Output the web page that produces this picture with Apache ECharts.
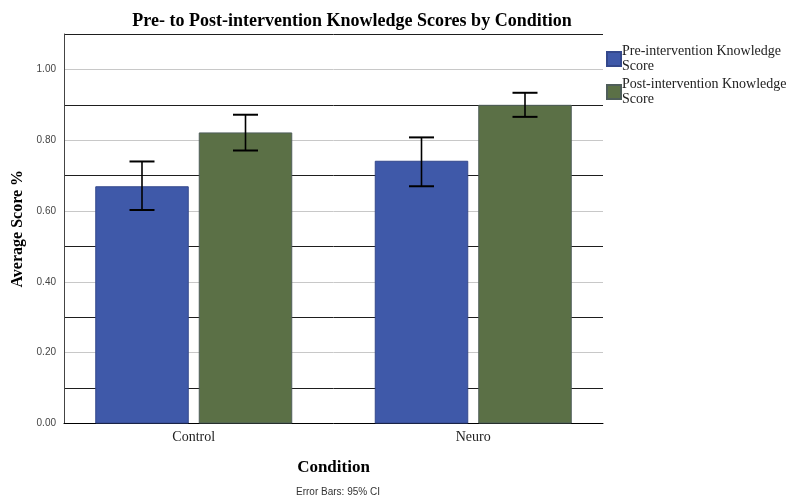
<!DOCTYPE html>
<html>
<head>
<meta charset="utf-8">
<script src="https://cdn.jsdelivr.net/npm/echarts@6/dist/echarts.min.js"></script>
<style>
  html, body { margin: 0; padding: 0; background: #ffffff; }
  #chart { width: 789px; height: 503px; }
</style>
</head>
<body>
<div id="chart"></div>
<script>
// Knowledge scores per condition (means and 95% CI bounds)
var categories = ['Control', 'Neuro'];
var seriesNames = ['Pre-intervention Knowledge Score', 'Post-intervention Knowledge Score'];
var preMeans = [0.670, 0.742];
var postMeans = [0.822, 0.900];
var preLow = [0.603, 0.670];
var preHigh = [0.740, 0.808];
var postLow = [0.771, 0.866];
var postHigh = [0.872, 0.934];

var SERIF = '"Liberation Serif", "Times New Roman", serif';
var SANS = '"Liberation Sans", Arial, sans-serif';

var BAR_W = 93.5;
var BAR_GAP = 10;
var HALF_STEP = (BAR_W + BAR_GAP) / 2;

function ciData(low, high) {
  return categories.map(function (c, i) { return [i, low[i], high[i]]; });
}

function errorBar(offset) {
  return function (params, api) {
    var i = api.value(0);
    var top = api.coord([i, api.value(2)]);
    var bot = api.coord([i, api.value(1)]);
    var x = top[0] + offset;
    var cap = 12.5;
    return {
      type: 'group',
      children: [
        { type: 'line', shape: { x1: x, y1: top[1], x2: x, y2: bot[1] }, style: { stroke: '#000', lineWidth: 1.6 } },
        { type: 'line', shape: { x1: x - cap, y1: top[1], x2: x + cap, y2: top[1] }, style: { stroke: '#000', lineWidth: 2 } },
        { type: 'line', shape: { x1: x - cap, y1: bot[1], x2: x + cap, y2: bot[1] }, style: { stroke: '#000', lineWidth: 2 } }
      ]
    };
  };
}

var chart = echarts.init(document.getElementById('chart'), null, { renderer: 'canvas' });

chart.setOption({
  backgroundColor: '#ffffff',
  animation: false,
  title: [
    {
      text: 'Pre- to Post-intervention Knowledge Scores by Condition',
      left: 347, top: 7, textAlign: 'center',
      textStyle: { fontFamily: SERIF, fontWeight: 'bold', fontSize: 18, color: '#000' }
    },
    {
      text: 'Error Bars: 95% CI',
      left: 333, top: 482, textAlign: 'center',
      textStyle: { fontFamily: SANS, fontWeight: 'normal', fontSize: 10, color: '#333' }
    }
  ],
  legend: {
    orient: 'vertical',
    left: 601, top: 39,
    itemWidth: 14, itemHeight: 14, itemGap: 3,
    icon: 'rect',
    formatter: function (name) { return name.replace(' Score', '\nScore'); },
    textStyle: { fontFamily: SERIF, fontSize: 14, color: '#222', lineHeight: 15, padding: [0, 0, 0, -4] },
    data: seriesNames
  },
  grid: [
    // frame, gridlines and value axis
    { left: 64, top: 34, right: 186, bottom: 79.5 },
    // category band layout for the bars
    { left: 54, top: 34, right: 176, bottom: 79.5 }
  ],
  xAxis: [
    {
      gridIndex: 0, type: 'value', min: 0, max: 1,
      name: 'Condition', nameLocation: 'middle', nameGap: 36,
      nameTextStyle: { fontFamily: SERIF, fontWeight: 'bold', fontSize: 17, color: '#000' },
      axisLine: { show: true, lineStyle: { color: '#000', width: 1 } },
      axisTick: { show: false }, axisLabel: { show: false }, splitLine: { show: false }
    },
    {
      gridIndex: 1, type: 'category', data: categories,
      axisLine: { show: false }, axisTick: { show: false },
      axisLabel: { fontFamily: SERIF, fontSize: 14, color: '#222', margin: 7 }
    }
  ],
  yAxis: [
    {
      gridIndex: 0, type: 'value', min: 0, max: 1.1, interval: 0.1,
      name: 'Average Score %', nameLocation: 'middle', nameGap: 34, nameRotate: 90,
      nameTextStyle: { fontFamily: SERIF, fontWeight: 'bold', fontSize: 16, color: '#000' },
      axisLine: { show: true, lineStyle: { color: '#444', width: 1 } },
      axisTick: { show: false },
      axisLabel: {
        fontFamily: SANS, fontSize: 10, color: '#444', margin: 8,
        formatter: function (v) {
          var k = Math.round(v * 10);
          return (k % 2 === 0 && k <= 10) ? v.toFixed(2) : '';
        }
      },
      splitLine: { show: true, lineStyle: { color: ['#c8c8c8', '#1e1e1e'], width: 1 } }
    },
    {
      gridIndex: 1, type: 'value', min: 0, max: 1.1,
      show: false, splitLine: { show: false }
    }
  ],
  series: [
    {
      name: seriesNames[0], type: 'bar', xAxisIndex: 1, yAxisIndex: 1,
      barWidth: BAR_W, barGap: (BAR_GAP / BAR_W * 100) + '%',
      itemStyle: { color: '#3f59a9', borderColor: '#34488c', borderWidth: 1 },
      data: preMeans
    },
    {
      name: seriesNames[1], type: 'bar', xAxisIndex: 1, yAxisIndex: 1,
      barWidth: BAR_W,
      itemStyle: { color: '#5b7046', borderColor: '#4f5e5a', borderWidth: 1 },
      data: postMeans
    },
    {
      type: 'custom', xAxisIndex: 1, yAxisIndex: 1, z: 5,
      renderItem: errorBar(-HALF_STEP), data: ciData(preLow, preHigh)
    },
    {
      type: 'custom', xAxisIndex: 1, yAxisIndex: 1, z: 5,
      renderItem: errorBar(HALF_STEP), data: ciData(postLow, postHigh)
    }
  ]
});
</script>
</body>
</html>
